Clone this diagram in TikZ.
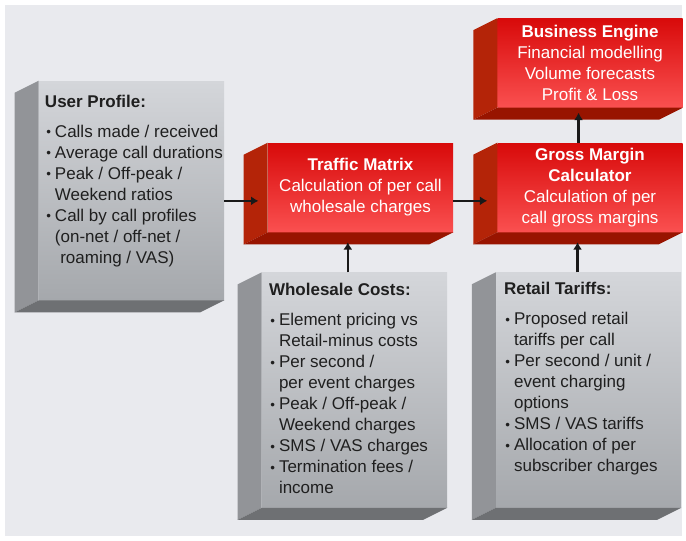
\documentclass[tikz,border=0pt]{standalone}
\usepackage{fontspec}
\setmainfont{Liberation Sans}
\usetikzlibrary{positioning, arrows.meta}

\definecolor{paper}{HTML}{E9EAEE}
\definecolor{greytop}{HTML}{D4D6DA}
\definecolor{greybot}{HTML}{A5A8AC}
\definecolor{greyside}{HTML}{929498}
\definecolor{greyfloor}{HTML}{6E7073}
\definecolor{redtop}{HTML}{D80A0A}
\definecolor{redbot}{HTML}{FA5050}
\definecolor{redside}{HTML}{B42408}
\definecolor{redfloor}{HTML}{981400}

\newcommand{\itm}{\makebox[7.5pt][l]{\hspace{1pt}\raisebox{0.6pt}{\fontsize{10}{10}\selectfont\textbullet}}}
\newcommand{\cnt}{\hspace*{7.5pt}}
% side and floor of a block, pushed back down-left
\newcommand{\slab}[3]{%
  \fill[#2] (#1.north west) -- (#1.south west) -- ++(-24,12) -- ([shift={(-24,12)}]#1.north west) -- cycle;
  \fill[#3] (#1.south west) -- (#1.south east) -- ++(-24,12) -- ([shift={(-24,12)}]#1.south west) -- cycle;}

\begin{document}
\begin{tikzpicture}[x=0.75pt, y=-0.75pt,
  every node/.style={font=\fontsize{12.75}{15.75}\selectfont},
  greyblk/.style={minimum width=138.75pt, minimum height=176.25pt, top color=greytop, bottom color=greybot, inner sep=0pt},
  redblk/.style={minimum width=138.75pt, minimum height=66.75pt, top color=redtop, bottom color=redbot, text=white, align=center, inner sep=0pt},
  notes/.style={anchor=north west, align=left, inner sep=0pt, text=black!88},
  arr/.style={-{Latex[length=5.5pt,width=6.75pt]}, line width=1.7pt, draw=black!90}]
  \fill[white] (0,0) rectangle (686,540);
  \fill[paper] (5,5) rectangle (682,536);

  % blocks
  \node[greyblk, minimum height=164.25pt] (up) at (131.5,190.5) {};
  \node[redblk] (tm) at (360.5,187.5) {\textbf{Traffic Matrix}\\Calculation of per call\\wholesale charges};
  \node[redblk, right=33pt of tm] (gm) {\textbf{Gross Margin}\\\textbf{Calculator}\\Calculation of per\\call gross margins};
  \node[redblk, above=26.25pt of gm] (be) {\textbf{Business Engine}\\Financial modelling\\Volume forecasts\\Profit \& Loss};
  \node[greyblk, below=30pt of tm.south, xshift=-4.5pt] (wc) {};
  \node[greyblk, below=30pt of gm.south, xshift=-1.1pt] (rt) {};

  \slab{up}{greyside}{greyfloor}
  \slab{wc}{greyside}{greyfloor}
  \slab{rt}{greyside}{greyfloor}
  \slab{tm}{redside}{redfloor}
  \slab{gm}{redside}{redfloor}
  \slab{be}{redside}{redfloor}

  % lists on the grey blocks
  \node[notes] (uptxt) at ([shift={(6,14)}]up.north west) {\textbf{User Profile:}\\[6.75pt]
    \itm Calls made / received\\ \itm Average call durations\\
    \itm Peak / Off-peak /\\ \cnt Weekend ratios\\
    \itm Call by call profiles\\ \cnt(on-net / off-net /\\ \cnt\hspace*{4pt}roaming / VAS)};
  \node[notes] (wctxt) at ([shift={(7,11)}]wc.north west) {\textbf{Wholesale Costs:}\\[6.75pt]
    \itm Element pricing vs\\ \cnt Retail-minus costs\\
    \itm Per second /\\ \cnt per event charges\\
    \itm Peak / Off-peak /\\ \cnt Weekend charges\\
    \itm SMS / VAS charges\\
    \itm Termination fees /\\ \cnt income};
  \node[notes] (rttxt) at ([shift={(8,10)}]rt.north west) {\textbf{Retail Tariffs:}\\[6.75pt]
    \itm Proposed retail\\ \cnt tariffs per call\\
    \itm Per second / unit /\\ \cnt event charging\\ \cnt options\\
    \itm SMS / VAS tariffs\\
    \itm Allocation of per\\ \cnt subscriber charges};

  % flows
  \coordinate (h) at ([yshift=-10pt]tm.west);
  \coordinate (v1) at ([xshift=-5pt]wc.north);
  \coordinate (v2) at ([xshift=-8.25pt]rt.north);
  \coordinate (v3) at ([xshift=-8.6pt]gm.north);
  \draw[arr] (h -| up.east) -- ([xshift=-7pt]h);
  \draw[arr] ([yshift=-10pt]tm.east) -- ([yshift=-10pt, xshift=-7.5pt]gm.west);
  \draw[arr, shorten >=7.5pt] (v1) -- (v1 |- tm.south);
  \draw[arr, shorten >=7.5pt] (v2) -- (v2 |- gm.south);
  \draw[arr, shorten >=3.75pt] (v3) -- (v3 |- be.south);
\end{tikzpicture}
\end{document}
